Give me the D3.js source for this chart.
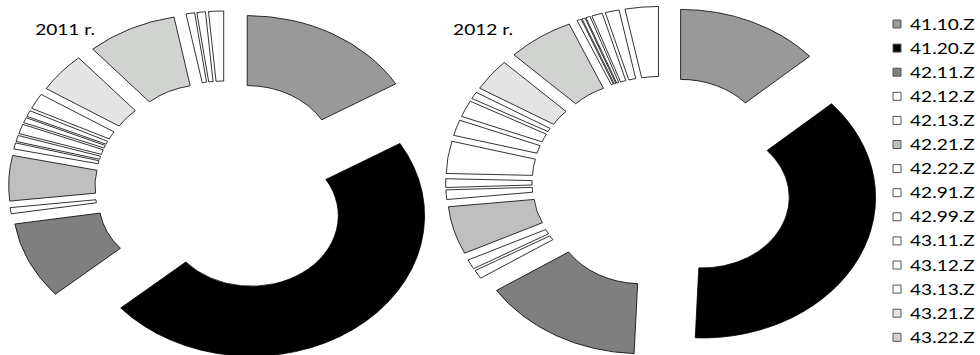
<!DOCTYPE html>
<html>
<head>
<meta charset="utf-8">
<script src="https://cdn.jsdelivr.net/npm/d3@7"></script>
<style>
  body { margin: 0; background: #fff; }
  text { font-family: Lato, "Open Sans", sans-serif; }
</style>
</head>
<body>
<script>
// NACE codes, in legend / slice order
let categories = [
  "41.10.Z", "41.20.Z", "42.11.Z", "42.12.Z", "42.13.Z", "42.21.Z", "42.22.Z",
  "42.91.Z", "42.99.Z", "43.11.Z", "43.12.Z", "43.13.Z", "43.21.Z", "43.22.Z",
  "43.29.Z", "43.31.Z", "43.32.Z", "43.33.Z", "43.34.Z", "43.39.Z", "43.91.Z", "43.99.Z"
];

// shares in %
let share2011 = [16.4, 47.2, 8.9, 0.7, 0, 5.2, 0.7, 0.7, 1.1, 0.6, 0.7, 1.8, 4.6, 8.4,
  0.8, 0.8, 1.4, 0, 0, 0, 0, 0];
let share2012 = [13.4, 37.3, 15.1, 1.0, 1.1, 5.5, 1.1, 1.0, 3.7, 1.8, 1.9, 0.8, 3.7, 6.2,
  0.4, 0.3, 0.4, 1.0, 1.3, 3.1, 0, 0];

let years = ["2011 r.", "2012 r."];

let fills = ["#999999", "#000000", "#7f7f7f", "#ffffff", "#ffffff", "#bfbfbf", "#ffffff",
  "#ffffff", "#ffffff", "#ffffff", "#ffffff", "#ffffff", "#e4e4e4", "#d1d3d1",
  "#ffffff", "#ffffff", "#ffffff", "#ffffff", "#ffffff", "#ffffff", "#ffffff", "#ffffff"];

let width = 980;
let height = 355;
let sx = 1.233; // the original picture is stretched sideways

let svg = d3.select("body").append("svg")
  .attr("width", width)
  .attr("height", height);

let g = svg.append("g").attr("transform", `scale(${sx},1)`);

let color = d3.scaleOrdinal().domain(categories).range(fills);

let pie = d3.pie().sort(null).value(d => d.value);
let outerR = 140.5, innerR = 70.5, explode = 35.5;
let arc = d3.arc().innerRadius(innerR).outerRadius(outerR);

let charts = [
  { title: years[0], values: share2011, cx: 183, cy: 187, tx: 28.5 },
  { title: years[1], values: share2012, cx: 537.5, cy: 182.3, tx: 367.5 }
];

charts.forEach(c => {
  let data = categories.map((k, i) => ({ key: k, value: c.values[i] }));
  let donut = g.append("g").attr("transform", `translate(${c.cx},${c.cy})`);

  donut.selectAll("path")
    .data(pie(data).filter(d => d.data.value > 0))
    .enter()
    .append("path")
    .attr("transform", d => {
      let mid = (d.startAngle + d.endAngle) / 2;
      return `translate(${explode * Math.sin(mid)},${-explode * Math.cos(mid)})`;
    })
    .attr("d", arc)
    .attr("fill", d => color(d.data.key))
    .attr("stroke", "#000")
    .attr("stroke-width", 0.8)
    .attr("vector-effect", "non-scaling-stroke")
    .attr("stroke-linejoin", "round");

  g.append("text")
    .attr("x", c.tx)
    .attr("y", 35)
    .attr("font-size", 15.5)
    .attr("fill", "#000")
    .text(c.title);
});

// legend: only the entries that fit in the frame are shown, like the original
let ly = d3.scalePoint().domain(categories).range([24, 24 + 21 * 24.1]);
let shown = categories.filter(d => ly(d) + 8 < height);

let legend = g.append("g").attr("class", "legend");
let item = legend.selectAll("g")
  .data(shown)
  .enter()
  .append("g")
  .attr("transform", d => `translate(0,${ly(d)})`);

item.append("rect")
  .attr("x", 893 / sx)
  .attr("y", -4)
  .attr("width", 8 / sx)
  .attr("height", 8)
  .attr("fill", d => color(d))
  .attr("stroke", "#555")
  .attr("stroke-width", 1)
  .attr("vector-effect", "non-scaling-stroke");

item.append("text")
  .attr("x", 910 / sx)
  .attr("y", 5.5)
  .attr("font-size", 15.5)
  .attr("fill", "#000")
  .text(d => d);
</script>
</body>
</html>
